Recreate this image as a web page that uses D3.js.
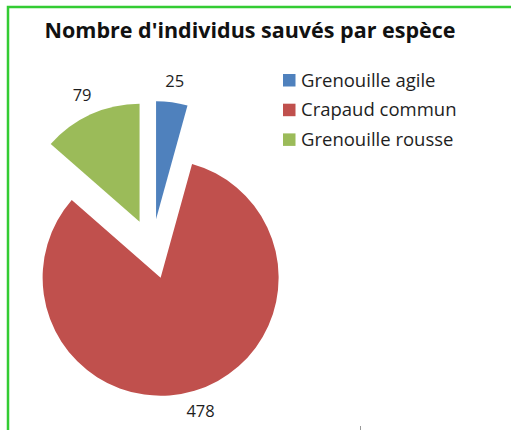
<!DOCTYPE html>
<html>
<head>
<meta charset="utf-8">
<script src="https://cdn.jsdelivr.net/npm/d3@7"></script>
<style>
  html, body { margin: 0; padding: 0; background: #fff; }
  svg { display: block; }
  .title { font-family: 'Open Sans', sans-serif; font-weight: bold; fill: #111; }
  .label, .legend text { font-family: 'Open Sans', sans-serif; fill: #1e1e1e; }
</style>
</head>
<body>
<div id="chart"></div>
<script>
(function () {

'use strict';

var species = ['Grenouille agile', 'Crapaud commun', 'Grenouille rousse'],
    counts = [25, 478, 79],
    colors = ['#4f81bd', '#c0504d', '#9bbb59'];

var width = 511,
    height = 430,
    center = {x: 152, y: 249},
    radius = 118,
    explode = 30,
    labelRadius = 139;

var svg = d3.select('#chart').append('svg')
    .attr('width', width)
    .attr('height', height);

// green frame, only top and left edges are visible in the crop
svg.append('path')
    .attr('d', 'M8,' + height + 'V7H' + width)
    .attr('fill', 'none')
    .attr('stroke', '#33cc33')
    .attr('stroke-width', 2.5);

// small tick at the bottom edge
svg.append('line')
    .attr('x1', 360.5).attr('x2', 360.5)
    .attr('y1', 426).attr('y2', height)
    .attr('stroke', '#999');

svg.append('text')
    .attr('class', 'title')
    .attr('x', 250)
    .attr('y', 37.5)
    .attr('text-anchor', 'middle')
    .style('font-size', '21.5px')
    .text("Nombre d'individus sauvés par espèce");

var pie = d3.pie().sort(null).value(function (d) { return d; });
var arc = d3.arc().innerRadius(0).outerRadius(radius);
var slices = pie(counts);

function offset(d, dist) {
  var a = (d.startAngle + d.endAngle) / 2;
  return [Math.sin(a) * dist, -Math.cos(a) * dist];
}

var g = svg.append('g')
    .attr('transform', 'translate(' + center.x + ',' + center.y + ')');

var slice = g.selectAll('g.slice')
    .data(slices)
    .enter()
    .append('g')
    .attr('class', 'slice')
    .attr('transform', function (d) {
      var o = offset(d, explode);
      return 'translate(' + o[0] + ',' + o[1] + ')';
    });

slice.append('path')
    .attr('d', arc)
    .attr('fill', function (d, i) { return colors[i]; });

slice.append('text')
    .attr('class', 'label')
    .attr('text-anchor', 'middle')
    .attr('dy', '0.36em')
    .style('font-size', '16.5px')
    .attr('x', function (d) { return offset(d, labelRadius)[0]; })
    .attr('y', function (d) { return offset(d, labelRadius)[1]; })
    .text(function (d) { return d.data; });

var legend = svg.append('g')
    .attr('class', 'legend')
    .attr('transform', 'translate(283,80)');

var row = legend.selectAll('g')
    .data(species)
    .enter()
    .append('g')
    .attr('transform', function (d, i) { return 'translate(0,' + i * 29.7 + ')'; });

row.append('rect')
    .attr('x', 0)
    .attr('y', -6)
    .attr('width', 12.5)
    .attr('height', 12.5)
    .attr('fill', function (d, i) { return colors[i]; });

row.append('text')
    .attr('x', 18)
    .attr('dy', '0.36em')
    .style('font-size', '18.5px')
    .text(function (d) { return d; });

})();
</script>
</body>
</html>
